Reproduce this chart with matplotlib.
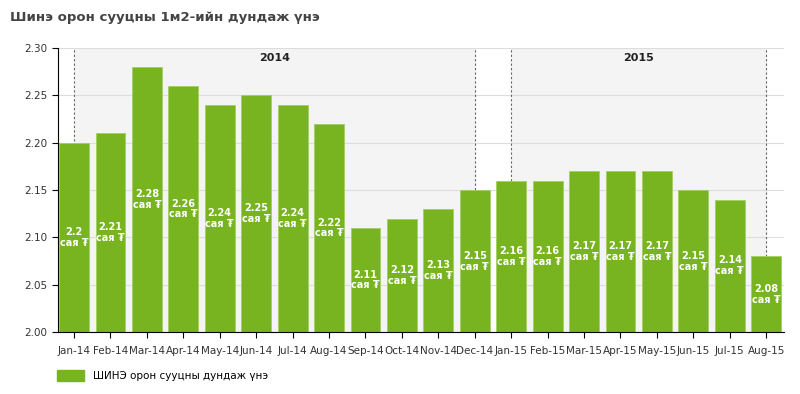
import matplotlib.pyplot as plt

months = ['Jan-14', 'Feb-14', 'Mar-14', 'Apr-14', 'May-14', 'Jun-14', 'Jul-14',
          'Aug-14', 'Sep-14', 'Oct-14', 'Nov-14', 'Dec-14', 'Jan-15', 'Feb-15',
          'Mar-15', 'Apr-15', 'May-15', 'Jun-15', 'Jul-15', 'Aug-15']
prices = [2.2, 2.21, 2.28, 2.26, 2.24, 2.25, 2.24, 2.22, 2.11, 2.12, 2.13,
          2.15, 2.16, 2.16, 2.17, 2.17, 2.17, 2.15, 2.14, 2.08]
years = ['2014', '2015']
year_start = [0, 12]
year_end = [11, 19]

green = '#77b41f'
x = range(len(months))

fig = plt.figure(figsize=(8, 3.94), dpi=100)
ax = fig.add_axes([0.0725, 0.157, 0.908, 0.721])

for yr, a, b in zip(years, year_start, year_end):
    ax.axvspan(a, b, color='#f4f4f4', zorder=0)
    ax.axvline(a, color='#666666', ls=(0, (2, 2)), lw=0.8, zorder=1)
    ax.axvline(b, color='#666666', ls=(0, (2, 2)), lw=0.8, zorder=1)
    ax.text((a + b) / 2, 2.29, yr, ha='center', va='center', fontsize=8,
            fontweight='bold', color='#222222')

ax.yaxis.grid(True, color='#dddddd', lw=0.8, zorder=0.5)
ax.set_axisbelow(True)
bars = ax.bar(x, prices, width=0.82, color=green, edgecolor='#a3cf63', lw=0.6,
              zorder=2)
for i, v in enumerate(prices):
    ax.text(i, (2.0 + v) / 2, '%g\nсая ₮' % v, ha='center', va='center',
            fontsize=7, fontweight='bold', color='white', zorder=3,
            linespacing=1.1)

ax.set_ylim(2.0, 2.30)
ax.set_xlim(-0.44, 19.5)
ax.set_yticks([2.0, 2.05, 2.10, 2.15, 2.20, 2.25, 2.30])
ax.set_yticklabels(['%.2f' % t for t in ax.get_yticks()], fontsize=7.5,
                   color='#333333')
ax.set_xticks(list(x))
ax.set_xticklabels(months, fontsize=7.5, color='#333333')
ax.tick_params(axis='x', length=4, pad=6)
ax.tick_params(axis='y', length=4)
for s in ['top', 'right']:
    ax.spines[s].set_visible(False)

fig.text(0.012, 0.955, 'Шинэ орон сууцны 1м2-ийн дундаж үнэ', fontsize=9.5,
         fontweight='bold', color='#444444', va='center')

h = plt.Rectangle((0, 0), 1, 1, color=green)
fig.legend([h], ['ШИНЭ орон сууцны дундаж үнэ'], loc='lower left',
           bbox_to_anchor=(0.06, 0.01), frameon=False, fontsize=7.5,
           handlelength=2.6, handleheight=1.2)

plt.savefig('out.png')
